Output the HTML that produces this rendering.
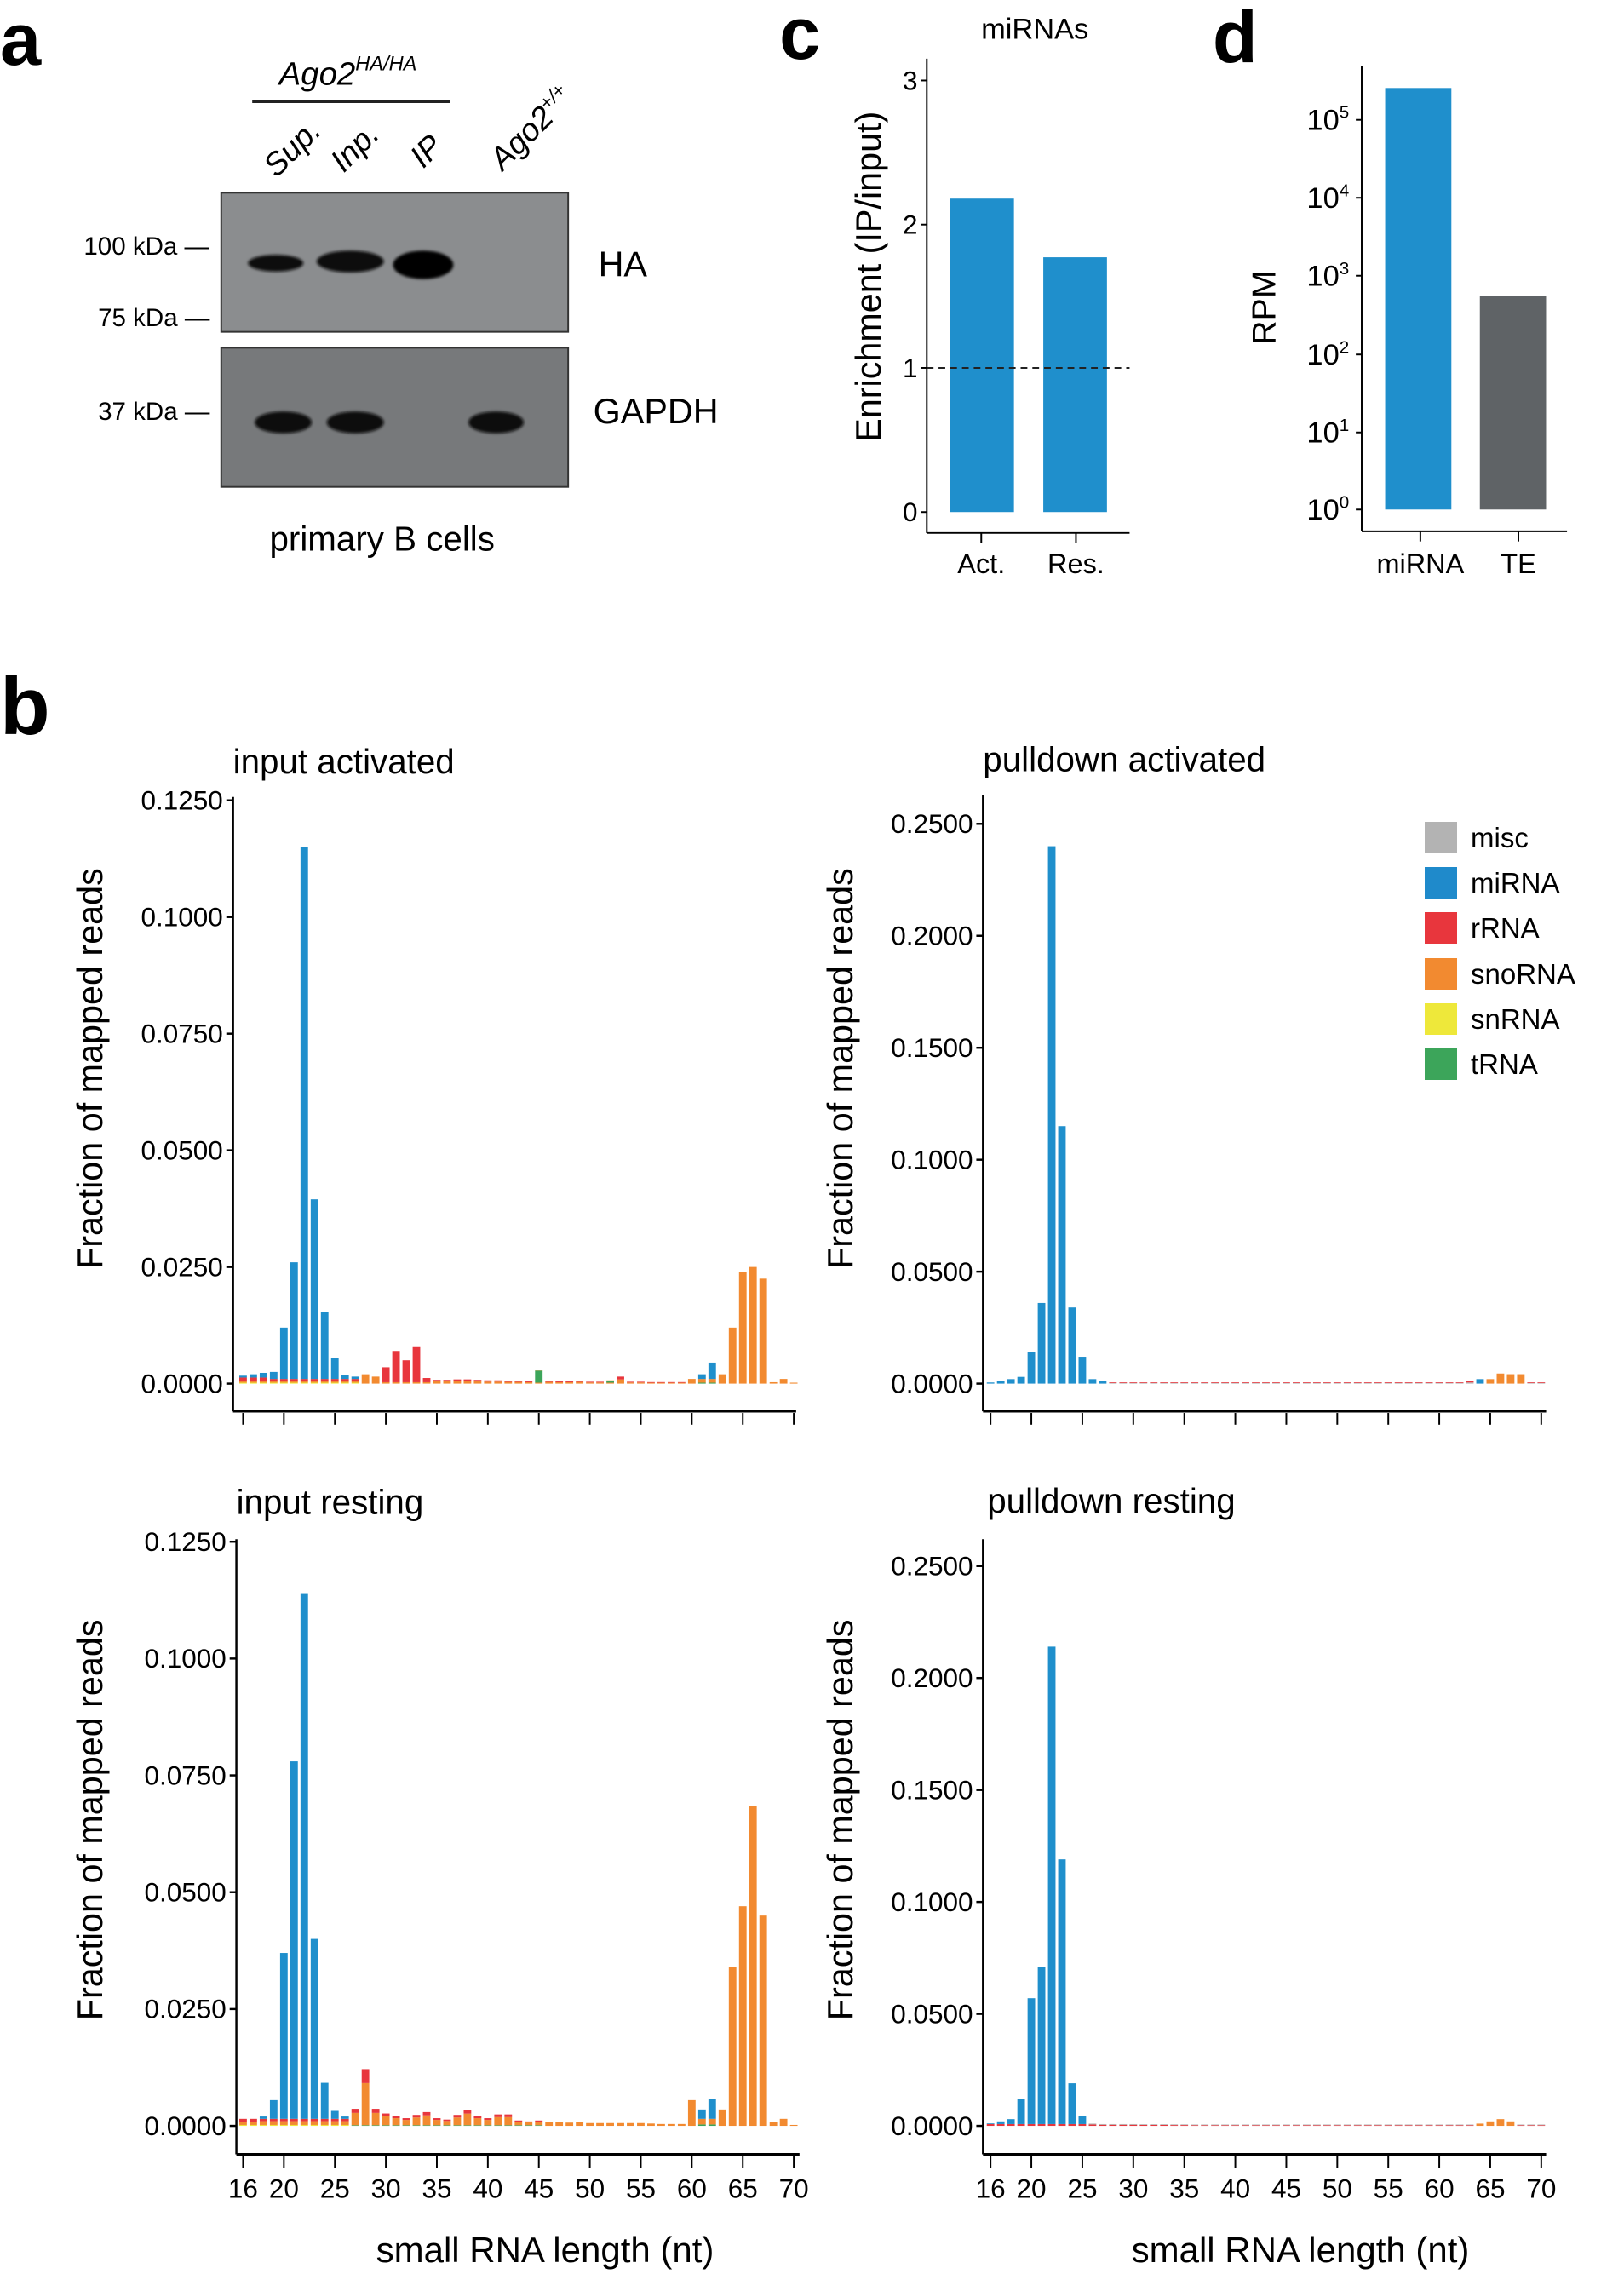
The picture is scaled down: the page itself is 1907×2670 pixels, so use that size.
<!DOCTYPE html>
<html><head><meta charset="utf-8"><style>
html,body{margin:0;padding:0;background:#fff;}
svg{display:block;font-family:"Liberation Sans",Arial,sans-serif;}
</style></head><body>
<svg id="s" width="1907" height="2670" viewBox="0 0 1907 2670" xmlns="http://www.w3.org/2000/svg">
<defs>
<filter id="blur2"><feGaussianBlur stdDeviation="1.5"/></filter>
</defs>
<g transform="scale(0.984)">
<!-- panel a -->
<text x="0" y="77" font-size="88" font-weight="bold">a</text>
<text x="333" y="101" font-size="39" font-style="italic">Ago2<tspan font-size="24" dy="-17">HA/HA</tspan></text>
<line x1="301" y1="121" x2="537" y2="121" stroke="#222" stroke-width="4"/>
<text transform="translate(330,213) rotate(-45)" font-size="38" font-style="italic">Sup.</text>
<text transform="translate(410,207) rotate(-45)" font-size="38" font-style="italic">Inp.</text>
<text transform="translate(505,202) rotate(-45)" font-size="38" font-style="italic">IP</text>
<text transform="translate(600,205) rotate(-45)" font-size="38" font-style="italic">Ago2<tspan font-size="23" dy="-14">+/+</tspan></text>
<rect x="264" y="230" width="414" height="166" fill="#8b8d8f" stroke="#333" stroke-width="2"/>
<rect x="264" y="415" width="414" height="166" fill="#77797b" stroke="#333" stroke-width="2"/>
<g filter="url(#blur2)">
<ellipse cx="329" cy="314" rx="33" ry="10" fill="#111"/>
<ellipse cx="418" cy="312" rx="40" ry="13" fill="#0a0a0a"/>
<ellipse cx="505" cy="316" rx="36" ry="17" fill="#050505"/>
<ellipse cx="338" cy="504" rx="34" ry="13" fill="#080808"/>
<ellipse cx="424" cy="504" rx="34" ry="13" fill="#080808"/>
<ellipse cx="592" cy="504" rx="33" ry="13" fill="#080808"/>
</g>
<text x="100" y="304" font-size="30">100 kDa —</text>
<text x="117" y="389" font-size="30">75 kDa —</text>
<text x="117" y="501" font-size="30">37 kDa —</text>
<text x="714" y="330" font-size="42">HA</text>
<text x="708" y="505" font-size="42">GAPDH</text>
<text x="456" y="657" font-size="41" text-anchor="middle">primary B cells</text>
<!-- panel c -->
<g transform="translate(5,0)">
<text x="925" y="70" font-size="88" font-weight="bold">c</text>
<text x="1230" y="46" font-size="35" text-anchor="middle">miRNAs</text>
<g stroke="#000" stroke-width="2" fill="none">
<line x1="1101" y1="70" x2="1101" y2="636"/>
<line x1="1101" y1="636" x2="1343" y2="636"/>
<line x1="1094" y1="96" x2="1101" y2="96"/><line x1="1094" y1="268" x2="1101" y2="268"/>
<line x1="1094" y1="439" x2="1101" y2="439"/><line x1="1094" y1="611" x2="1101" y2="611"/>
<line x1="1166" y1="636" x2="1166" y2="648"/><line x1="1279" y1="636" x2="1279" y2="648"/>
</g>
<g font-size="32" text-anchor="end">
<text x="1090" y="107">3</text><text x="1090" y="279">2</text><text x="1090" y="450">1</text><text x="1090" y="622">0</text>
</g>
<rect x="1129" y="237" width="76" height="374" fill="#1f8fcc"/>
<rect x="1240" y="307" width="76" height="304" fill="#1f8fcc"/>
<line x1="1101" y1="439" x2="1343" y2="439" stroke="#222" stroke-width="2" stroke-dasharray="8,6"/>
<text x="1166" y="684" font-size="33" text-anchor="middle">Act.</text>
<text x="1279" y="684" font-size="33" text-anchor="middle">Res.</text>
<text transform="translate(1046,330) rotate(-90)" font-size="42" text-anchor="middle">Enrichment (IP/input)</text>
</g>
<!-- panel d -->
<g transform="translate(10,0)">
<text x="1437" y="74" font-size="88" font-weight="bold">d</text>
<g stroke="#000" stroke-width="2">
<line x1="1615" y1="79" x2="1615" y2="634"/>
<line x1="1615" y1="634" x2="1860" y2="634"/>
<line x1="1608" y1="143" x2="1615" y2="143"/><line x1="1608" y1="236" x2="1615" y2="236"/>
<line x1="1608" y1="329" x2="1615" y2="329"/><line x1="1608" y1="423" x2="1615" y2="423"/>
<line x1="1608" y1="516" x2="1615" y2="516"/><line x1="1608" y1="608" x2="1615" y2="608"/>
<line x1="1685" y1="634" x2="1685" y2="646"/><line x1="1802" y1="634" x2="1802" y2="646"/>
</g>
<g font-size="35" text-anchor="end">
<text x="1600" y="155">10<tspan font-size="21" dy="-14">5</tspan></text>
<text x="1600" y="248">10<tspan font-size="21" dy="-14">4</tspan></text>
<text x="1600" y="341">10<tspan font-size="21" dy="-14">3</tspan></text>
<text x="1600" y="435">10<tspan font-size="21" dy="-14">2</tspan></text>
<text x="1600" y="528">10<tspan font-size="21" dy="-14">1</tspan></text>
<text x="1600" y="620">10<tspan font-size="21" dy="-14">0</tspan></text>
</g>
<rect x="1643" y="105" width="79" height="503" fill="#1f8fcc"/>
<rect x="1756" y="353" width="79" height="255" fill="#5f6366"/>
<text x="1685" y="684" font-size="33" text-anchor="middle">miRNA</text>
<text x="1802" y="684" font-size="33" text-anchor="middle">TE</text>
<text transform="translate(1512,367) rotate(-90)" font-size="40" text-anchor="middle">RPM</text>
</g>
</g>
<!-- panel b -->
<text x="0" y="862" font-size="96" font-weight="bold">b</text>
<g id="gtop" transform="translate(5,800) scale(0.984) translate(0,-800)"></g>
<g id="gbot" transform="translate(5,1700) scale(0.984) translate(0,-1700)"></g>
<!-- legend -->
<g font-size="33">
<rect x="1673" y="965" width="38" height="37" fill="#b3b3b3"/><text x="1727" y="995">misc</text>
<rect x="1673" y="1018" width="38" height="37" fill="#1f8acb"/><text x="1727" y="1048">miRNA</text>
<rect x="1673" y="1071" width="38" height="37" fill="#e8363d"/><text x="1727" y="1101">rRNA</text>
<rect x="1673" y="1125" width="38" height="37" fill="#f28a30"/><text x="1727" y="1155">snoRNA</text>
<rect x="1673" y="1178" width="38" height="37" fill="#eee83a"/><text x="1727" y="1208">snRNA</text>
<rect x="1673" y="1231" width="38" height="37" fill="#3ca55a"/><text x="1727" y="1261">tRNA</text>
</g>
<text x="640" y="2656" font-size="42" text-anchor="middle">small RNA length (nt)</text>
<text x="1527" y="2656" font-size="42" text-anchor="middle">small RNA length (nt)</text>
</svg>
<script>
var NS="http://www.w3.org/2000/svg";
var g;
function el(t,a,txt){var e=document.createElementNS(NS,t);for(var k in a)e.setAttribute(k,a[k]);if(txt!==undefined)e.textContent=txt;g.appendChild(e);return e;}
var C={misc:"#b3b3b3",mi:"#1f8fcc",r:"#e8363d",sno:"#f28a30",sn:"#eee83a",t:"#3ca55a"};
function panel(o){
 g=document.getElementById(o.grp);
 el("line",{x1:o.ax,y1:o.top,x2:o.ax,y2:o.xaxis,stroke:"#000","stroke-width":2.5});
 el("line",{x1:o.ax,y1:o.xaxis,x2:o.ax+672,y2:o.xaxis,stroke:"#000","stroke-width":3});
 o.ticks.forEach(function(v){var y=o.y0-v*o.ppu;
  el("line",{x1:o.ax-8,y1:y,x2:o.ax,y2:y,stroke:"#000","stroke-width":2.5});
  el("text",{x:o.ax-12,y:y+11,"font-size":32,"text-anchor":"end"},v.toFixed(4));});
 var xt=[16,20,25,30,35,40,45,50,55,60,65,70];
 xt.forEach(function(n){var x=o.x16+(n-16)*12.17;
  el("line",{x1:x,y1:o.xaxis+2,x2:x,y2:o.xaxis+16,stroke:"#000","stroke-width":2});
  if(o.labels) el("text",{x:x,y:o.xaxis+52,"font-size":32,"text-anchor":"middle"},String(n));});
 el("text",{x:o.tx,y:o.ty+14,"font-size":41},o.title);
 el("text",{transform:"translate("+o.lx+","+o.ly+") rotate(-90)","font-size":42,"text-anchor":"middle"},"Fraction of mapped reads");
 o.data.forEach(function(d,i){
  var x=o.x16+i*12.17-4.5; var y=o.y0;
  d.forEach(function(seg){var h=seg[1]*o.ppu; if(h<0.8)h=0.8; y-=h;
   el("rect",{x:x,y:y,width:9,height:h,fill:C[seg[0]]});});
 });
}
var ia=[.0017,.002,.0023,.0025,.012,.026,.115,.0395,.0153,.0055,.0018,.0015,.002,.0015,.0035,.007,.005,.008,.0012,.0008,.0008,.0009,.0009,.0008,.0007,.0007,.0006,.0006,.0005,.003,.0006,.0005,.0005,.0006,.0004,.0004,.0007,.0015,.0004,.0004,.0003,.0003,.0003,.0003,.001,.002,.0045,.002,.012,.024,.025,.0225,.0003,.001,.0002];
var iaD=ia.map(function(v,i){var n=i+16;
 if(n>=19&&n<=27) return [["sn",.0002],["sno",.0004],["r",.0004],["mi",v-.001]];
 if(n<19) return [["sn",.0002],["sno",.0004],["r",.0007],["mi",v-.0013]];
 if(n>=30&&n<=34) return [["sno",.0003],["r",v-.0003]];
 if(n==45||n==52) return [["sno",.0002],["t",v-.0004],["sno",.0002]];
 if(n==61||n==62) return [["t",.0002],["sno",.0008],["mi",v-.001]];
 if(n>=35&&n<60) return [["sno",v*.6],["r",v*.4]];
 return [["sno",v]];});
var pa=[.0005,.001,.002,.003,.014,.036,.24,.115,.034,.012,.002,.001,.0005,.0004,.0004,.0004,.0003,.0003,.0003,.0003,.0003,.0003,.0003,.0003,.0003,.0003,.0003,.0003,.0003,.0003,.0003,.0003,.0003,.0003,.0003,.0003,.0003,.0003,.0003,.0003,.0003,.0003,.0003,.0003,.0003,.0003,.0003,.001,.002,.002,.0045,.0042,.0042,.0003,.0003];
var paD=pa.map(function(v,i){var n=i+16;
 if(n<=27) return [["mi",v]];
 if(n>=64&&n<=68) return n==64?[["mi",v]]:[["sno",v]];
 return [["misc",v*.5],["r",v*.5]];});
var ir=[.0015,.0015,.002,.0055,.037,.078,.114,.040,.0092,.0032,.002,.0035,.012,.0035,.0025,.002,.0015,.0022,.0028,.0015,.0012,.0022,.0033,.002,.0015,.0023,.0023,.001,.0008,.001,.0009,.0008,.0007,.0008,.0006,.0006,.0006,.0006,.0006,.0006,.0005,.0004,.0004,.0004,.0055,.0035,.0058,.0035,.034,.047,.0685,.045,.0008,.0015,.0002];
var irD=ir.map(function(v,i){var n=i+16;
 if(n>=18&&n<=26) return [["sn",.0002],["sno",.0008],["r",.0005],["mi",v-.0015]];
 if(n<18) return [["sn",.0002],["sno",.0006],["r",v-.0008]];
 if(n==61||n==62) return [["t",.0003],["sno",.0012],["mi",v-.0015]];
 if(n>=27&&n<=45) return [["t",.0001],["sno",v*.75],["r",v*.25]];
 return [["sno",v]];});
var pr=[.001,.002,.003,.012,.057,.071,.214,.119,.019,.0045,.001,.0008,.0008,.0008,.0008,.0007,.0007,.0007,.0006,.0006,.0005,.0005,.0005,.0004,.0004,.0004,.0004,.0003,.0003,.0003,.0003,.0003,.0003,.0003,.0003,.0003,.0003,.0003,.0003,.0003,.0003,.0003,.0003,.0003,.0003,.0003,.0003,.0003,.001,.002,.003,.002,.0003,.0003,.0003];
var prD=pr.map(function(v,i){var n=i+16;
 if(n<=25) return [["r",.0008],["mi",Math.max(v-.0008,.0002)]];
 if(n>=64&&n<=67) return [["sno",v]];
 return [["r",v*.6],["misc",v*.4]];});
panel({grp:"gtop",ax:273,x16:285,top:938,y0:1638,ppu:5568,ticks:[0,.025,.05,.075,.1,.125],title:"input activated",tx:273,ty:896,xaxis:1671,data:iaD,lx:117,ly:1262,labels:false});
panel({grp:"gtop",ax:1168,x16:1177,top:936,y0:1638,ppu:2672,ticks:[0,.05,.1,.15,.2,.25],title:"pulldown activated",tx:1168,ty:893,xaxis:1671,data:paD,lx:1012,ly:1262,labels:false});
panel({grp:"gbot",ax:277,x16:285,top:1809,y0:2509,ppu:5576,ticks:[0,.025,.05,.075,.1,.125],title:"input resting",tx:277,ty:1765,xaxis:2543,data:irD,lx:117,ly:2144,labels:true});
panel({grp:"gbot",ax:1168,x16:1177,top:1809,y0:2509,ppu:2672,ticks:[0,.05,.1,.15,.2,.25],title:"pulldown resting",tx:1173,ty:1763,xaxis:2543,data:prD,lx:1012,ly:2144,labels:true});
</script>
</body></html>
